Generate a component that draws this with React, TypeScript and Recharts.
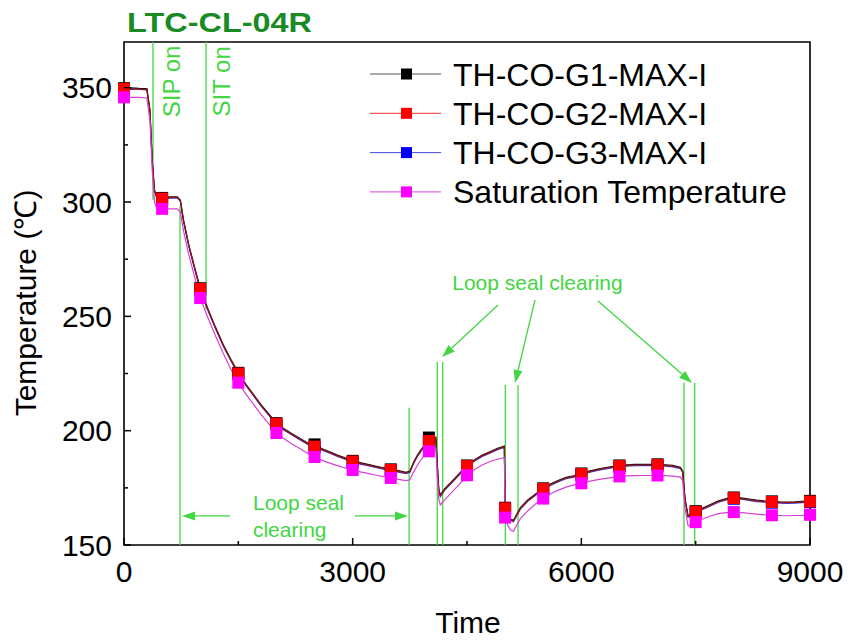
import React from "react";
import { LineChart, Line, XAxis, YAxis, ReferenceLine, ReferenceArea, ReferenceDot } from "recharts";

const FONT = "'Liberation Sans', Arial, Helvetica, sans-serif";
const GREEN = "#42d642";

// time axis (s)
const time = [
  0, 100, 200, 300, 340, 370, 400, 430, 500, 600,
  700, 740, 780, 850, 920, 1000, 1100, 1200, 1300, 1400,
  1500, 1600, 1700, 1800, 1900, 2000, 2100, 2200, 2300, 2400,
  2500, 2600, 2700, 2800, 2900, 3000, 3100, 3200, 3300, 3400,
  3500, 3600, 3700, 3750, 3800, 3850, 3900, 3950, 4000, 4050,
  4090, 4110, 4130, 4150, 4200, 4300, 4400, 4500, 4600, 4700,
  4800, 4900, 4990, 5000, 5030, 5070, 5110, 5150, 5200, 5300,
  5400, 5500, 5600, 5700, 5800, 5900, 6000, 6100, 6200, 6300,
  6400, 6500, 6600, 6700, 6800, 6900, 7000, 7100, 7200, 7300,
  7330, 7360, 7400, 7450, 7500, 7600, 7700, 7800, 7900, 8000,
  8100, 8200, 8300, 8400, 8500, 8600, 8700, 8800, 8900, 9000,
];

const g1 = [
  349.8, 349.9, 349.7, 349.6, 340.3, 318.3, 305.3, 302.3, 301.8, 302.3,
  302.3, 300.8, 292.3, 281.3, 272.3, 262.3, 253.3, 245.3, 237.8, 231.3,
  225.3, 220.3, 215.8, 211.3, 207.3, 203.3, 200.8, 198.8, 196.8, 194.8,
  194.0, 192.1, 190.8, 189.3, 188.1, 186.8, 186.0, 185.3, 184.5, 183.8,
  183.1, 182.5, 181.8, 182.3, 186.3, 189.3, 191.8, 193.8, 197.0, 196.9,
  197.1, 185.3, 174.3, 171.8, 174.3, 177.8, 181.3, 184.8, 187.3, 189.3,
  190.8, 192.3, 193.3, 166.3, 163.3, 161.3, 160.8, 163.3, 166.3, 169.8,
  172.3, 174.8, 176.8, 178.3, 179.6, 180.3, 181.3, 182.3, 183.1, 183.8,
  184.3, 184.8, 185.1, 185.3, 185.3, 185.3, 185.3, 185.1, 184.8, 184.0,
  182.3, 170.3, 162.8, 163.3, 164.8, 166.3, 167.8, 169.3, 170.3, 170.8,
  170.6, 170.1, 169.6, 169.3, 169.1, 168.9, 168.8, 168.9, 169.1, 169.3,
];

const g2 = [
  349.5, 349.6, 349.4, 349.3, 340.0, 318.0, 305.0, 302.0, 301.5, 302.0,
  302.0, 300.5, 292.0, 281.0, 272.0, 262.0, 253.0, 245.0, 237.5, 231.0,
  225.0, 220.0, 215.5, 211.0, 207.0, 203.0, 200.5, 198.5, 196.5, 194.5,
  193.0, 191.8, 190.5, 189.0, 187.8, 186.5, 185.7, 185.0, 184.2, 183.5,
  182.8, 182.2, 181.5, 182.0, 186.0, 189.0, 191.5, 193.5, 195.5, 196.5,
  196.8, 185.0, 174.0, 171.5, 174.0, 177.5, 181.0, 184.5, 187.0, 189.0,
  190.5, 192.0, 193.0, 166.0, 163.0, 161.0, 160.5, 163.0, 166.0, 169.5,
  172.0, 174.5, 176.5, 178.0, 179.3, 180.0, 181.0, 182.0, 182.8, 183.5,
  184.0, 184.5, 184.8, 185.0, 185.0, 185.0, 185.0, 184.8, 184.5, 183.7,
  182.0, 170.0, 162.5, 163.0, 164.5, 166.0, 167.5, 169.0, 170.0, 170.5,
  170.3, 169.8, 169.3, 169.0, 168.8, 168.6, 168.5, 168.6, 168.8, 169.0,
];

const g3 = [
  349.3, 349.4, 349.3, 349.1, 339.6, 317.6, 304.7, 301.7, 301.2, 301.7,
  301.8, 300.2, 291.6, 280.6, 271.6, 261.7, 252.7, 244.7, 237.2, 230.7,
  224.7, 219.7, 215.2, 210.7, 206.7, 202.7, 200.2, 198.2, 196.2, 194.2,
  192.7, 191.5, 190.2, 188.7, 187.5, 186.2, 185.4, 184.7, 183.9, 183.2,
  182.5, 181.9, 181.2, 181.7, 185.7, 188.7, 191.2, 193.2, 195.2, 196.2,
  196.5, 184.7, 173.7, 171.2, 173.7, 177.2, 180.7, 184.2, 186.7, 188.7,
  190.2, 191.7, 192.7, 165.7, 162.7, 160.7, 160.2, 162.7, 165.7, 169.2,
  171.7, 174.2, 176.2, 177.7, 179.0, 179.7, 180.7, 181.7, 182.5, 183.2,
  183.7, 184.2, 184.5, 184.7, 184.7, 184.7, 184.7, 184.5, 184.2, 183.4,
  181.7, 169.7, 162.2, 162.7, 164.2, 165.7, 167.2, 168.7, 169.7, 170.2,
  170.0, 169.5, 169.0, 168.7, 168.5, 168.3, 168.2, 168.3, 168.5, 168.7,
];

const sat = [
  345.8, 345.8, 345.8, 345.5, 336.0, 314.0, 300.0, 297.3, 297.0, 297.0,
  297.0, 295.5, 287.5, 277.0, 268.0, 258.0, 249.5, 241.5, 234.0, 227.0,
  221.0, 216.0, 211.5, 207.0, 203.0, 199.0, 196.5, 194.3, 192.3, 190.2,
  188.5, 187.0, 185.8, 184.7, 183.7, 182.8, 182.0, 181.3, 180.6, 179.9,
  179.3, 178.7, 178.2, 178.5, 182.0, 185.0, 187.5, 189.5, 191.0, 192.0,
  192.3, 180.0, 170.0, 167.5, 169.5, 173.0, 176.5, 180.5, 183.0, 185.0,
  186.5, 187.5, 188.3, 162.0, 159.0, 156.5, 156.0, 158.5, 161.5, 165.0,
  168.0, 170.3, 172.5, 174.0, 175.3, 176.3, 177.0, 177.8, 178.5, 179.0,
  179.5, 180.0, 180.2, 180.3, 180.4, 180.4, 180.4, 180.3, 180.1, 179.7,
  178.0, 166.0, 158.5, 158.5, 160.0, 161.5, 162.8, 163.7, 164.2, 164.4,
  164.2, 163.8, 163.5, 163.2, 163.0, 162.9, 162.8, 162.9, 163.0, 163.2,
];

const seriesNames = ["TH-CO-G1-MAX-I", "TH-CO-G2-MAX-I", "TH-CO-G3-MAX-I", "Saturation Temperature"];
const seriesKeys = ["g1", "g2", "g3", "sat"];
const markerColors = ["#000000", "#ff0000", "#0000ff", "#ff00ff"];
const lineColors = ["#111111", "#9a1212", "#3a3ad8", "#d640d6"];
const legendLineColors = ["#555555", "#ee3030", "#4848d8", "#dd44dd"];
const drawOrder = [2, 0, 1, 3];

const xTicks = [0, 1500, 3000, 4500, 6000, 7500, 9000];
const yTicks = [150, 175, 200, 225, 250, 275, 300, 325, 350];
const markerStep = 500;

// green event lines: time, bottom value, top value
const eventTimes = [380, 1076, 735, 3740, 4110, 4181, 5003, 5169, 7347, 7487];
const eventFrom = [301, 253, 150, 150, 150, 150, 150, 150, 150, 150];
const eventTo = [370, 370, 298, 210, 230, 230, 220, 220, 221, 221];

// arrows: start (t, v) -> tip (t, v)
const arrowFromT = [4907, 5392, 6219, 1391, 3031];
const arrowFromV = [255, 257.2, 256.7, 162.7, 162.7];
const arrowToT = [4172, 5130, 7452, 761, 3726];
const arrowToV = [232.2, 220.9, 220.9, 162.7, 162.7];

const noteTexts = ["SIP on", "SIT on", "Loop seal clearing", "Loop seal", "clearing"];
const noteT = [740, 1390, 5425, 1692, 1692];
const noteV = [352.8, 352.8, 261.5, 165.3, 153.5];

const data = time.map((t, i) => ({ t, g1: g1[i], g2: g2[i], g3: g3[i], sat: sat[i] }));

const makeDot = (color: string) => (props: any) => {
  const { cx, cy, payload, index } = props;
  if (payload.t % markerStep !== 0) return <g key={index} />;
  return <rect key={index} x={cx - 6} y={cy - 6} width={12} height={12} fill={color} />;
};

const XTick = (props: any) => {
  const { x, y, payload } = props;
  const major = payload.value % 3000 === 0;
  return (
    <g>
      <line x1={x} x2={x} y1={y} y2={y - (major ? 7 : 4)} stroke="#000" strokeWidth={1.5} />
      {major && (
        <text x={x} y={y + 37} textAnchor="middle" fontSize={30} fontFamily={FONT} fill="#000">
          {payload.value}
        </text>
      )}
    </g>
  );
};

const YTick = (props: any) => {
  const { x, y, payload } = props;
  const major = payload.value % 50 === 0;
  return (
    <g>
      <line x1={x} x2={x + (major ? 7 : 4)} y1={y} y2={y} stroke="#000" strokeWidth={1.5} />
      {major && (
        <text x={x - 12} y={y + 10.5} textAnchor="end" fontSize={30} fontFamily={FONT} fill="#000">
          {payload.value}
        </text>
      )}
    </g>
  );
};

const Arrow = (p: any) => {
  const { x1, y1, x2, y2 } = p;
  const a = Math.atan2(y2 - y1, x2 - x1);
  const L = 13;
  const W = 4.5;
  const bx = x2 - L * Math.cos(a);
  const by = y2 - L * Math.sin(a);
  const pts = `${x2},${y2} ${bx - W * Math.sin(a)},${by + W * Math.cos(a)} ${bx + W * Math.sin(a)},${by - W * Math.cos(a)}`;
  return (
    <g>
      <line x1={x1} y1={y1} x2={bx} y2={by} stroke={GREEN} strokeWidth={1.3} />
      <polygon points={pts} fill={GREEN} />
    </g>
  );
};

const noteShape = (i: number) => (p: any) => {
  const { cx, cy } = p;
  const rotated = i < 2;
  return (
    <text
      x={cx}
      y={cy}
      transform={rotated ? `rotate(-90, ${cx}, ${cy})` : undefined}
      textAnchor={i >= 3 ? "start" : "middle"}
      fontSize={rotated ? 24 : 21}
      fontFamily={FONT}
      fill={GREEN}
    >
      {noteTexts[i]}
    </text>
  );
};

export default function App() {
  return (
    <div style={{ position: "absolute", left: 0, top: 0, width: 854, height: 640, background: "#fff" }}>
      <LineChart width={854} height={640} data={data} margin={{ top: 42, right: 44, bottom: 10, left: 0 }}>
        <XAxis
          dataKey="t"
          type="number"
          domain={[0, 9000]}
          ticks={xTicks}
          tick={<XTick />}
          tickLine={false}
          axisLine={false}
          tickSize={0}
          tickMargin={0}
          height={85}
          interval={0}
        />
        <YAxis
          type="number"
          domain={[150, 370]}
          ticks={yTicks}
          tick={<YTick />}
          tickLine={false}
          axisLine={false}
          tickSize={0}
          tickMargin={0}
          width={124}
          interval={0}
        />
        {eventTimes.map((t, i) => (
          <ReferenceLine
            key={"ev" + i}
            segment={[{ x: t, y: eventFrom[i] }, { x: t, y: eventTo[i] }]}
            stroke={GREEN}
            strokeWidth={1.3}
          />
        ))}
        {arrowFromT.map((t, i) => (
          <ReferenceLine
            key={"ar" + i}
            segment={[{ x: t, y: arrowFromV[i] }, { x: arrowToT[i], y: arrowToV[i] }]}
            shape={Arrow}
          />
        ))}
        {noteTexts.map((n, i) => (
          <ReferenceDot key={"nt" + i} x={noteT[i]} y={noteV[i]} r={0} shape={noteShape(i)} />
        ))}
        {drawOrder.map((s) => (
          <Line
            key={seriesKeys[s]}
            dataKey={seriesKeys[s]}
            name={seriesNames[s]}
            type="linear"
            stroke={lineColors[s]}
            strokeWidth={1.2}
            dot={makeDot(markerColors[s])}
            activeDot={false}
            isAnimationActive={false}
          />
        ))}
        <ReferenceArea x1={0} x2={9000} y1={150} y2={370} fill="none" stroke="#000" strokeWidth={1.6} />
      </LineChart>
      <svg width={854} height={640} style={{ position: "absolute", left: 0, top: 0, pointerEvents: "none" }}>
        <text x={127} y={32} fontSize={28} fontWeight="bold" fontFamily={FONT} fill="#1a8a24" textLength={185} lengthAdjust="spacingAndGlyphs">
          LTC-CL-04R
        </text>
        <text transform="translate(36, 303) rotate(-90)" textAnchor="middle" fontSize={30} fontFamily={FONT} fill="#000">
          Temperature (℃)
        </text>
        <text x={468} y={633} textAnchor="middle" fontSize={30} fontFamily={FONT} fill="#000">
          Time
        </text>
        {seriesNames.map((n, i) => {
          const cy = 74 + i * 39.3;
          return (
            <g key={n}>
              <line x1={370} x2={441} y1={cy} y2={cy} stroke={legendLineColors[i]} strokeWidth={1} />
              <rect x={401} y={cy - 5.5} width={11} height={11} fill={markerColors[i]} />
              <text x={453} y={cy + 11.5} fontSize={32} fontFamily={FONT} fill="#000">
                {n}
              </text>
            </g>
          );
        })}
      </svg>
    </div>
  );
}
